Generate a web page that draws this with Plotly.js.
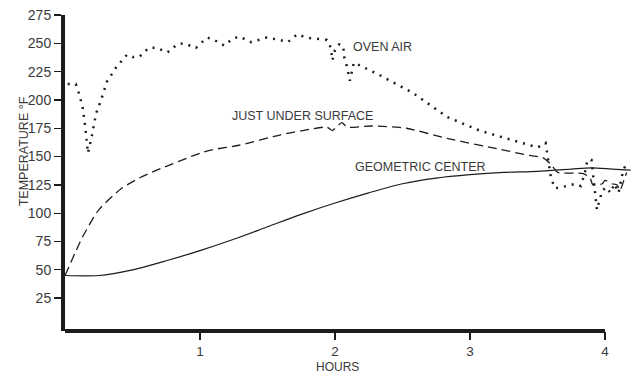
<!DOCTYPE html>
<html>
<head>
<meta charset="utf-8">
<script src="https://cdn.plot.ly/plotly-3.0.1.min.js"></script>
<style>html,body{margin:0;padding:0;background:#fff;}#chart{width:632px;height:375px;}</style>
</head>
<body>
<div id="chart"></div>
<script>
// Hours and temperatures (°F)
const ovenHours = [0.02,0.08,0.10,0.13,0.15,0.17,0.20,0.23,0.27,0.31,0.38,0.46,0.50,0.55,0.62,0.68,0.76,0.83,0.88,0.97,1.05,1.09,1.18,1.24,1.29,1.38,1.49,1.59,1.65,1.72,1.79,1.88,1.94,1.97,1.98,2.00,2.03,2.06,2.07,2.09,2.11,2.14,2.33,2.58,2.83,3.07,3.32,3.50,3.56,3.58,3.60,3.63,3.68,3.78,3.82,3.85,3.87,3.90,3.92,3.94,3.98,4.01,4.04,4.07,4.10,4.13,4.15,4.18];
const ovenTemp  = [214,214,207,194,176,153,169,188,201,216,229,240,238,238,246,246,242,249,250,246,255,254,248,254,256,251,255,253,251,258,255,254,253,246,235,244,249,248,237,229,217,233,222,206,185,173,164,158,162,144,131,122,123,126,124,135,147,147,127,103,120,123,118,126,118,135,142,144];

const surfHours = [0,0.13,0.25,0.42,0.55,0.68,1.0,1.09,1.29,1.59,1.81,1.94,1.98,2.05,2.09,2.27,2.53,2.83,3.2,3.44,3.54,3.6,3.65,3.84,3.89,3.91,3.98,4.0,4.05,4.09,4.11,4.14,4.16];
const surfTemp  = [45,79,103,122,131,138,153,156,160,169,174,176,173,180,176,177,175,166,157,151,149,143,136,135,131,125,126,129,126,125,120,129,136];

const centerHours = [0,0.25,0.5,0.75,1.0,1.25,1.5,1.75,2.0,2.25,2.5,2.75,3.0,3.25,3.5,3.75,3.9,4.05,4.19];
const centerTemp  = [45,45,50,58,67,77,88,99,109,118,126,131,134,136,137,139,140,139,138];

const yTicks = [25,50,75,100,125,150,175,200,225,250,275];
const xTicks = [1,2,3,4];

const labels = ["OVEN AIR","JUST UNDER SURFACE","GEOMETRIC CENTER"];
const labelHours = [2.35,1.76,2.63];
const labelTemps = [247,186,141];

const ink = "#1c1c1c";
const txt = "#3a3a3a";
const fam = "Liberation Sans, Arial, sans-serif";

const traces = [
  {x: ovenHours, y: ovenTemp, mode: "lines", line: {color: ink, width: 2.5, dash: "2px,6px"}, hoverinfo: "skip"},
  {x: surfHours, y: surfTemp, mode: "lines", line: {color: ink, width: 1.3, dash: "9px,5px", shape: "spline", smoothing: 0.6}, hoverinfo: "skip"},
  {x: centerHours, y: centerTemp, mode: "lines", line: {color: ink, width: 1.2, shape: "spline", smoothing: 0.8}, hoverinfo: "skip"}
];

const annotations = labels.map((t,i) => ({
  text: t, x: labelHours[i], y: labelTemps[i], xref: "x", yref: "y",
  showarrow: false, font: {family: fam, size: 12.5, color: txt}
}));
annotations.push({text: "TEMPERATURE °F", xref: "paper", yref: "paper", x: -0.088, y: 0.569,
  textangle: -90, showarrow: false, font: {family: fam, size: 12.5, color: txt}});
annotations.push({text: "HOURS", xref: "paper", yref: "paper", x: 0.48, y: -0.1125,
  yanchor: "middle", showarrow: false, font: {family: fam, size: 12, color: txt}});

const layout = {
  width: 632, height: 375,
  margin: {l: 65, r: 0, t: 15, b: 44},
  paper_bgcolor: "#fff", plot_bgcolor: "#fff",
  showlegend: false,
  xaxis: {range: [0, 4.2], tickvals: xTicks, ticktext: xTicks.map(String), ticks: "outside", ticklen: 8, tickwidth: 1.3,
          tickcolor: ink, showgrid: false, zeroline: false, showline: false,
          tickfont: {family: fam, size: 13.5, color: txt}, fixedrange: true},
  yaxis: {range: [-4, 275], tickvals: yTicks, ticktext: yTicks.map(String), ticks: "outside", ticklen: 7, tickwidth: 1.3,
          tickcolor: ink, showgrid: false, zeroline: false, showline: true, linewidth: 4, linecolor: ink,
          tickfont: {family: fam, size: 14, color: txt}, fixedrange: true},
  shapes: [{type: "line", xref: "x", yref: "paper", x0: 0, x1: 4, y0: 0, y1: 0, line: {color: ink, width: 4}}],
  annotations: annotations
};

Plotly.newPlot("chart", traces, layout, {staticPlot: true, displayModeBar: false});
</script>
</body>
</html>
